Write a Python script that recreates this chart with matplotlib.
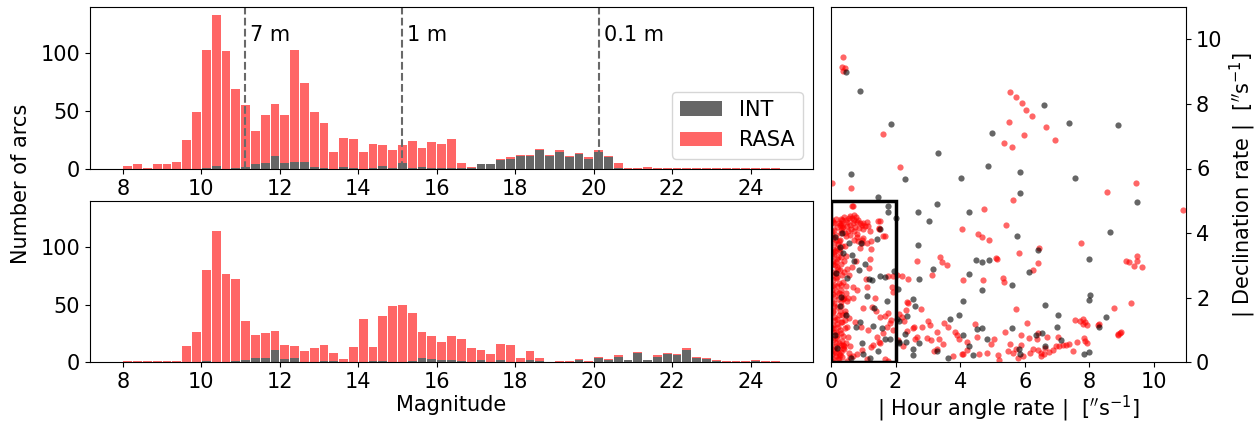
import numpy as np
import matplotlib
matplotlib.use("Agg")
import matplotlib.pyplot as plt
from matplotlib.patches import Patch, Rectangle

plt.rcParams['font.size'] = 15

# magnitude bins (0.25 mag wide, 8 -> 24.75)
bin_left = np.arange(8.0, 24.75, 0.25)

# top panel counts per bin
top_int = [0, 0, 0, 0, 0, 0, 0, 0, 1, 3, 0, 1, 2, 4, 5, 11, 5, 6, 6, 2,
           1, 0, 2, 1, 0, 1, 3, 1, 5, 1, 2, 1, 1, 1, 1, 1, 4, 4, 8, 9,
           11, 11, 16, 11, 15, 10, 13, 9, 15, 10, 1, 0, 0, 0, 0, 0, 0, 0, 0, 0,
           0, 0, 0, 0, 0, 0, 0]
top_rasa = [3, 4, 1, 4, 4, 6, 25, 49, 102, 130, 102, 68, 53, 29, 42, 45, 42, 97, 68, 47,
            39, 15, 25, 25, 15, 21, 18, 15, 16, 23, 16, 22, 21, 25, 4, 1, 0, 0, 1, 1,
            1, 1, 1, 1, 1, 1, 1, 1, 1, 1, 4, 1, 1, 2, 1, 1, 1, 1, 1, 1,
            1, 1, 1, 1, 1, 1, 1]

# bottom panel counts per bin
bot_int = [0, 0, 0, 0, 0, 0, 0, 0, 1, 0, 0, 1, 2, 4, 4, 11, 3, 4, 0, 0,
           1, 1, 0, 0, 0, 1, 1, 0, 0, 1, 4, 3, 2, 2, 1, 0, 2, 0, 2, 0,
           0, 2, 1, 0, 0, 0, 2, 0, 4, 2, 5, 2, 8, 2, 5, 7, 6, 11, 4, 3,
           1, 0, 0, 0, 1, 0, 0]
bot_rasa = [1, 1, 1, 1, 1, 1, 14, 26, 79, 114, 77, 71, 34, 20, 21, 16, 12, 10, 10, 12,
            14, 7, 3, 13, 38, 12, 39, 49, 50, 42, 22, 20, 16, 21, 19, 12, 9, 7, 14, 15,
            4, 8, 3, 0, 1, 1, 1, 1, 1, 1, 1, 0, 1, 0, 1, 1, 1, 1, 1, 1,
            1, 1, 1, 1, 1, 1, 1]

# object size limits (magnitude) and labels
size_mag = [11.11, 15.12, 20.14]
size_lab = ['7 m', '1 m', '0.1 m']

# angular rates [arcsec/s]: RASA
rasa_x = [0.36, 0.35, 0.44, 0.38, 5.54, 5.72, 5.90, 6.05, 6.22, 5.52, 6.67, 1.62, 5.98, 6.92, 5.37, 5.61, 2.15, 0.03, 0.63, 9.45,
          8.53, 5.64, 0.65, 4.75, 10.89, 4.07, 4.55, 4.69, 4.88, 5.42, 5.82, 7.74, 2.67, 3.12, 3.37, 3.43, 3.59, 5.11, 5.15, 6.45,
          6.42, 6.26, 9.14, 9.24, 9.48, 9.46, 9.39, 9.64, 4.08, 2.39, 5.31, 5.36, 4.72, 5.74, 9.30, 8.76, 6.07, 2.36, 2.38, 2.32,
          2.80, 2.57, 2.66, 2.05, 2.19, 2.12, 2.20, 2.25, 2.60, 2.36, 2.07, 2.22, 2.96, 3.10, 2.81, 2.53,
          3.00, 3.07, 3.51, 3.61, 3.83, 3.91, 3.95, 4.20, 4.45, 4.51, 4.94, 4.82, 4.57, 3.79, 4.05, 4.20, 4.10, 3.28, 3.34, 3.20,
          3.27, 3.46, 5.18, 5.19, 5.47, 5.55, 5.40, 5.65, 5.73, 5.79, 5.89, 5.94, 6.17, 6.24, 6.13, 6.42, 6.39, 6.42, 6.49, 6.49,
          6.60, 6.63, 6.70, 6.76, 6.88, 6.98, 7.06, 7.04, 7.18, 7.28, 7.38, 7.48, 7.61, 7.86, 7.94, 7.83, 7.56, 7.71, 7.81, 7.86,
          7.92, 7.79, 8.27, 8.31, 8.90, 8.95, 8.98, 8.88, 5.89, 5.04,
          0.30, 0.35, 0.40, 0.45, 0.50, 0.55, 0.60, 0.65, 0.70, 0.72, 0.78, 0.80, 0.68, 0.58, 0.48, 0.38, 0.30, 0.62, 0.75, 0.85,
          0.90, 0.52, 0.42, 0.25, 0.33, 0.88, 0.95, 1.00, 0.70, 0.82, 0.60, 0.45, 1.05, 1.12, 1.45, 1.50, 1.62, 1.20, 1.00, 0.95,
          0.85, 0.70, 1.52, 1.48, 1.68, 1.14, 1.00, 0.67, 1.23, 0.04,
          0.05, 0.15, 0.08, 0.25, 0.12, 0.30, 0.05, 0.20, 0.38, 0.10, 0.28, 0.05, 0.18, 0.35, 0.10, 0.25, 0.42, 0.05, 0.18, 0.32,
          0.08, 0.22, 0.40, 0.05, 0.15, 0.30, 0.10, 0.25, 0.05, 0.18, 0.35, 0.08, 0.22, 0.12, 0.30, 0.05, 0.20, 0.10, 0.28, 0.05,
          0.18, 0.35, 0.10, 0.25, 0.05, 0.15, 0.30, 0.10, 0.20, 0.08, 0.02, 0.22, 0.35, 0.40, 0.15, 0.30, 0.02, 0.12, 0.28, 0.02,
          0.30, 0.20, 0.02, 0.28, 0.15, 0.02, 0.25, 0.15, 0.02, 0.30, 0.45, 0.50, 0.45, 0.50, 0.48, 0.45, 0.55, 0.60, 0.50,
          0.79, 0.95, 0.90, 1.10, 1.23, 1.21, 0.77, 0.64, 1.08, 1.10, 0.81, 0.67, 0.53, 0.69, 0.98, 1.27, 1.39, 1.52, 1.67, 1.77,
          1.83, 1.72, 1.62, 1.49, 1.52, 1.31, 1.24, 0.95, 0.79, 0.67, 1.10, 1.68, 1.77, 1.41, 1.16, 0.92, 0.74, 0.57, 0.43, 0.54,
          0.38, 0.30, 0.59, 1.88, 1.93, 1.86, 1.93, 1.19, 0.57, 1.36, 1.77, 1.93]
rasa_y = [9.44, 9.13, 9.10, 9.03, 8.37, 8.21, 8.03, 7.80, 7.62, 7.44, 7.30, 7.07, 7.03, 6.87, 6.78, 6.66, 6.05, 5.54, 5.39, 5.56,
          5.28, 5.03, 4.84, 4.74, 4.72, 4.14, 3.98, 3.89, 3.78, 4.25, 3.38, 3.70, 3.14, 2.71, 3.27, 3.12, 3.02, 3.24, 3.19, 3.53,
          3.08, 2.85, 3.13, 3.10, 3.28, 3.14, 2.99, 2.96, 2.56, 2.57, 2.61, 2.48, 2.55, 1.64, 1.84, 1.68, 1.21, 1.87, 1.83, 1.62,
          1.64, 1.10, 0.78, 2.70, 2.68, 1.50, 1.39, 1.28, 0.72, 0.97, 0.70, 0.49, 0.74, 0.69, 1.10, 1.05,
          1.27, 1.16, 1.23, 1.08, 0.94, 0.83, 0.72, 0.63, 1.18, 0.79, 0.56, 0.30, 0.25, 0.20, 0.27, 0.38, 0.26, 0.95, 0.72, 0.34,
          0.40, 0.57, 0.22, 0.06, 0.34, 0.58, 0.95, 0.28, 0.40, 0.14, 0.83, 0.18, 0.28, 0.40, 0.76, 0.90, 0.71, 0.37, 0.29, 0.18,
          0.25, 0.43, 0.79, 0.31, 0.38, 0.49, 0.51, 0.77, 0.54, 0.54, 0.56, 0.35, 0.64, 0.66, 0.59, 0.74, 1.31, 1.28, 1.33, 1.25,
          1.17, 1.20, 1.17, 1.18, 0.89, 0.90, 0.93, 0.83, 0.54, 0.71,
          4.45, 4.40, 4.50, 4.42, 4.35, 4.48, 4.52, 4.46, 4.55, 4.40, 4.50, 4.35, 4.30, 4.25, 4.22, 4.18, 4.10, 4.12, 4.20, 4.42,
          4.30, 4.05, 4.00, 4.30, 4.25, 4.15, 4.25, 4.12, 4.05, 3.98, 3.95, 3.90, 4.22, 4.35, 4.38, 4.15, 3.92, 4.05, 3.85, 3.70,
          3.75, 3.80, 4.39, 4.13, 3.92, 4.23, 4.32, 4.84, 3.77, 4.40,
          0.10, 0.20, 0.35, 0.30, 0.50, 0.55, 0.70, 0.75, 0.80, 0.95, 1.00, 1.15, 1.20, 1.25, 1.40, 1.45, 1.50, 1.60, 1.70, 1.75,
          1.85, 1.95, 2.00, 2.10, 2.20, 2.25, 2.40, 2.45, 2.55, 2.65, 2.70, 2.80, 2.90, 3.00, 3.05, 3.15, 3.20, 3.35, 3.40, 3.50,
          3.55, 3.60, 3.70, 3.75, 3.85, 3.95, 4.00, 4.10, 4.20, 4.30, 0.25, 0.10, 0.15, 0.40, 0.60, 0.90, 1.05, 1.30, 1.60, 1.90,
          2.10, 2.35, 2.70, 2.85, 3.10, 3.30, 3.50, 3.80, 4.05, 4.30, 3.30, 2.90, 2.35, 1.90, 1.10, 0.60, 0.30, 0.15, 0.05,
          3.89, 3.79, 3.53, 3.70, 3.50, 3.20, 3.15, 2.96, 2.57, 2.34, 2.24, 2.34, 1.98, 1.98, 1.67, 1.72, 1.59, 1.41, 1.43, 1.52,
          1.23, 1.10, 0.92, 0.64, 0.59, 0.54, 0.46, 0.38, 0.26, 0.18, 0.10, 0.09, 0.05, 0.79, 1.00, 1.10, 1.26, 1.36, 1.05, 0.79,
          0.54, 0.33, 0.49, 2.34, 2.19, 1.31, 1.00, 2.93, 2.70, 2.00, 2.68, 2.66]

# extra RASA points in the dense low-rate column
rasa_col_x = [0.03, 0.10, 0.18, 0.26, 0.34, 0.42, 0.06, 0.14, 0.22, 0.30,
              0.38, 0.46, 0.02, 0.09, 0.17, 0.24, 0.33, 0.41, 0.05, 0.13,
              0.21, 0.29, 0.37, 0.44, 0.03, 0.11, 0.19, 0.27, 0.35, 0.43,
              0.07, 0.16, 0.23, 0.31, 0.39, 0.04, 0.12, 0.20, 0.28, 0.36,
              0.08, 0.15, 0.25, 0.32, 0.40, 0.06, 0.14, 0.23, 0.31, 0.38]
rasa_col_y = [0.05, 0.42, 0.85, 0.12, 0.65, 1.30, 1.55, 0.28, 1.10, 1.88,
              0.45, 2.15, 2.35, 1.75, 2.60, 0.60, 1.45, 2.80, 3.05, 2.05,
              3.25, 0.22, 2.50, 3.60, 3.95, 3.45, 2.95, 3.80, 4.15, 1.60,
              4.35, 0.95, 3.65, 2.40, 3.15, 2.25, 0.75, 1.35, 4.25, 1.95,
              3.40, 4.45, 2.15, 3.25, 0.50, 1.05, 2.75, 0.40, 1.25, 2.00]

# angular rates [arcsec/s]: INT
int_x = [0.47, 0.91, 6.59, 1.85, 7.36, 8.88, 4.97, 3.30, 4.87, 0.63, 5.85, 2.29, 4.04, 7.56, 5.85, 1.44, 3.27, 9.46, 2.68, 3.03,
         4.27, 5.76, 8.65, 2.68, 3.17, 4.48, 4.69, 4.88, 6.40, 6.14, 7.98, 4.27, 2.73, 5.61, 4.69, 4.08, 6.63, 7.99, 8.03, 8.51,
         7.02, 2.54, 2.61, 2.36, 2.54, 2.71, 3.68, 3.97, 4.10, 4.27, 4.53, 4.67, 4.84, 4.39, 3.61, 3.29, 5.59, 5.83, 5.85, 6.35,
         6.52, 6.99, 7.13, 7.83, 7.98, 8.29, 6.63, 2.05, 2.29, 2.32, 2.10, 2.55, 2.07, 2.09, 2.12, 2.00,
         1.52, 1.43, 0.92, 0.28, 0.36, 0.64, 0.71, 0.88, 1.19, 1.26, 1.53, 1.68, 1.94, 1.72, 1.33, 0.91, 0.76, 1.29, 1.58, 1.83,
         1.67, 0.95, 1.21, 1.00, 0.63, 0.12, 0.28, 0.30, 0.33, 1.78, 0.11, 1.78, 0.50, 0.15, 0.45, 0.20, 1.10, 1.45, 0.55, 1.05]
int_y = [8.99, 8.41, 7.98, 7.37, 7.40, 7.34, 7.09, 6.47, 6.09, 5.82, 5.88, 5.68, 5.70, 5.72, 5.25, 5.12, 4.91, 4.96, 4.64, 4.37,
         4.64, 3.92, 4.04, 3.64, 2.89, 3.16, 3.10, 3.16, 3.47, 2.79, 3.20, 2.72, 2.59, 2.39, 2.24, 1.90, 1.78, 1.94, 2.07, 1.41,
         1.47, 1.96, 1.73, 1.43, 0.22, 0.60, 1.35, 1.46, 0.83, 0.52, 1.04, 1.07, 0.71, 0.24, 0.12, 0.36, 1.06, 0.42, 0.25, 0.85,
         0.90, 1.09, 0.70, 0.25, 0.32, 1.09, 0.49, 1.33, 0.88, 0.63, 0.59, 0.40, 2.26, 1.28, 0.64, 4.46,
         4.12, 3.81, 3.68, 3.58, 3.37, 3.32, 3.13, 2.86, 2.57, 2.55, 2.67, 2.63, 2.83, 1.90, 1.67, 1.24, 1.08, 1.13, 1.07, 0.71,
         0.72, 0.61, 0.12, 0.25, 0.12, 0.83, 1.74, 2.01, 3.99, 4.66, 3.89, 4.83, 2.60, 2.75, 1.45, 0.45, 2.05, 0.35, 3.70, 3.05]

int_col = (0, 0, 0, 0.6)
rasa_col = (1, 0, 0, 0.6)
W, H = 1256, 424

fig = plt.figure(figsize=(W / 100, H / 100), dpi=100)
ax1 = fig.add_axes([90 / W, 1 - 169 / H, 723 / W, 162 / H])
ax2 = fig.add_axes([90 / W, 1 - 362.3 / H, 723 / W, 161.3 / H], sharex=ax1, sharey=ax1)
ax3 = fig.add_axes([831 / W, 1 - 362.3 / H, 355.3 / W, 355.3 / H])

for ax, ni, nr in [(ax1, top_int, top_rasa), (ax2, bot_int, bot_rasa)]:
    ax.bar(bin_left + 0.125, ni, width=0.225, color=int_col)
    ax.bar(bin_left + 0.125, nr, width=0.225, bottom=ni, color=rasa_col)

for m, lab in zip(size_mag, size_lab):
    ax1.axvline(m, color='dimgray', ls='--', lw=1.5)
    ax1.text(m + 0.13, 116, lab, va='center', ha='left')

ax1.set_xlim(7.16, 25.59)
ax1.set_ylim(0, 140)
ax1.set_xticks(np.arange(8, 25, 2))
ax1.set_yticks([0, 50, 100])
ax1.legend(handles=[Patch(facecolor=int_col, edgecolor='none', label='INT'),
                    Patch(facecolor=rasa_col, edgecolor='none', label='RASA')],
           loc='lower right')
ax2.set_xlabel('Magnitude', labelpad=2)
fig.text(21 / W, 1 - 184 / H, 'Number of arcs', rotation=90, va='center', ha='center')

ax3.scatter(rasa_x + rasa_col_x, rasa_y + rasa_col_y, s=20, color=rasa_col, lw=0)
ax3.scatter(int_x, int_y, s=20, color=int_col, lw=0)
ax3.add_patch(Rectangle((0, 0), 2, 5, fill=False, lw=2.5, color='black', zorder=3))
ax3.set_xlim(0, 11)
ax3.set_ylim(0, 11)
ax3.set_xticks([0, 2, 4, 6, 8, 10])
ax3.set_yticks([0, 2, 4, 6, 8, 10])
ax3.yaxis.tick_right()
ax3.yaxis.set_label_position('right')
ax3.set_xlabel(r'| Hour angle rate |  [$^{\prime\prime}$s$^{-1}$]', labelpad=1.5)
ax3.set_ylabel(r'| Declination rate |  [$^{\prime\prime}$s$^{-1}$]')

fig.savefig('out.png', dpi=100)
